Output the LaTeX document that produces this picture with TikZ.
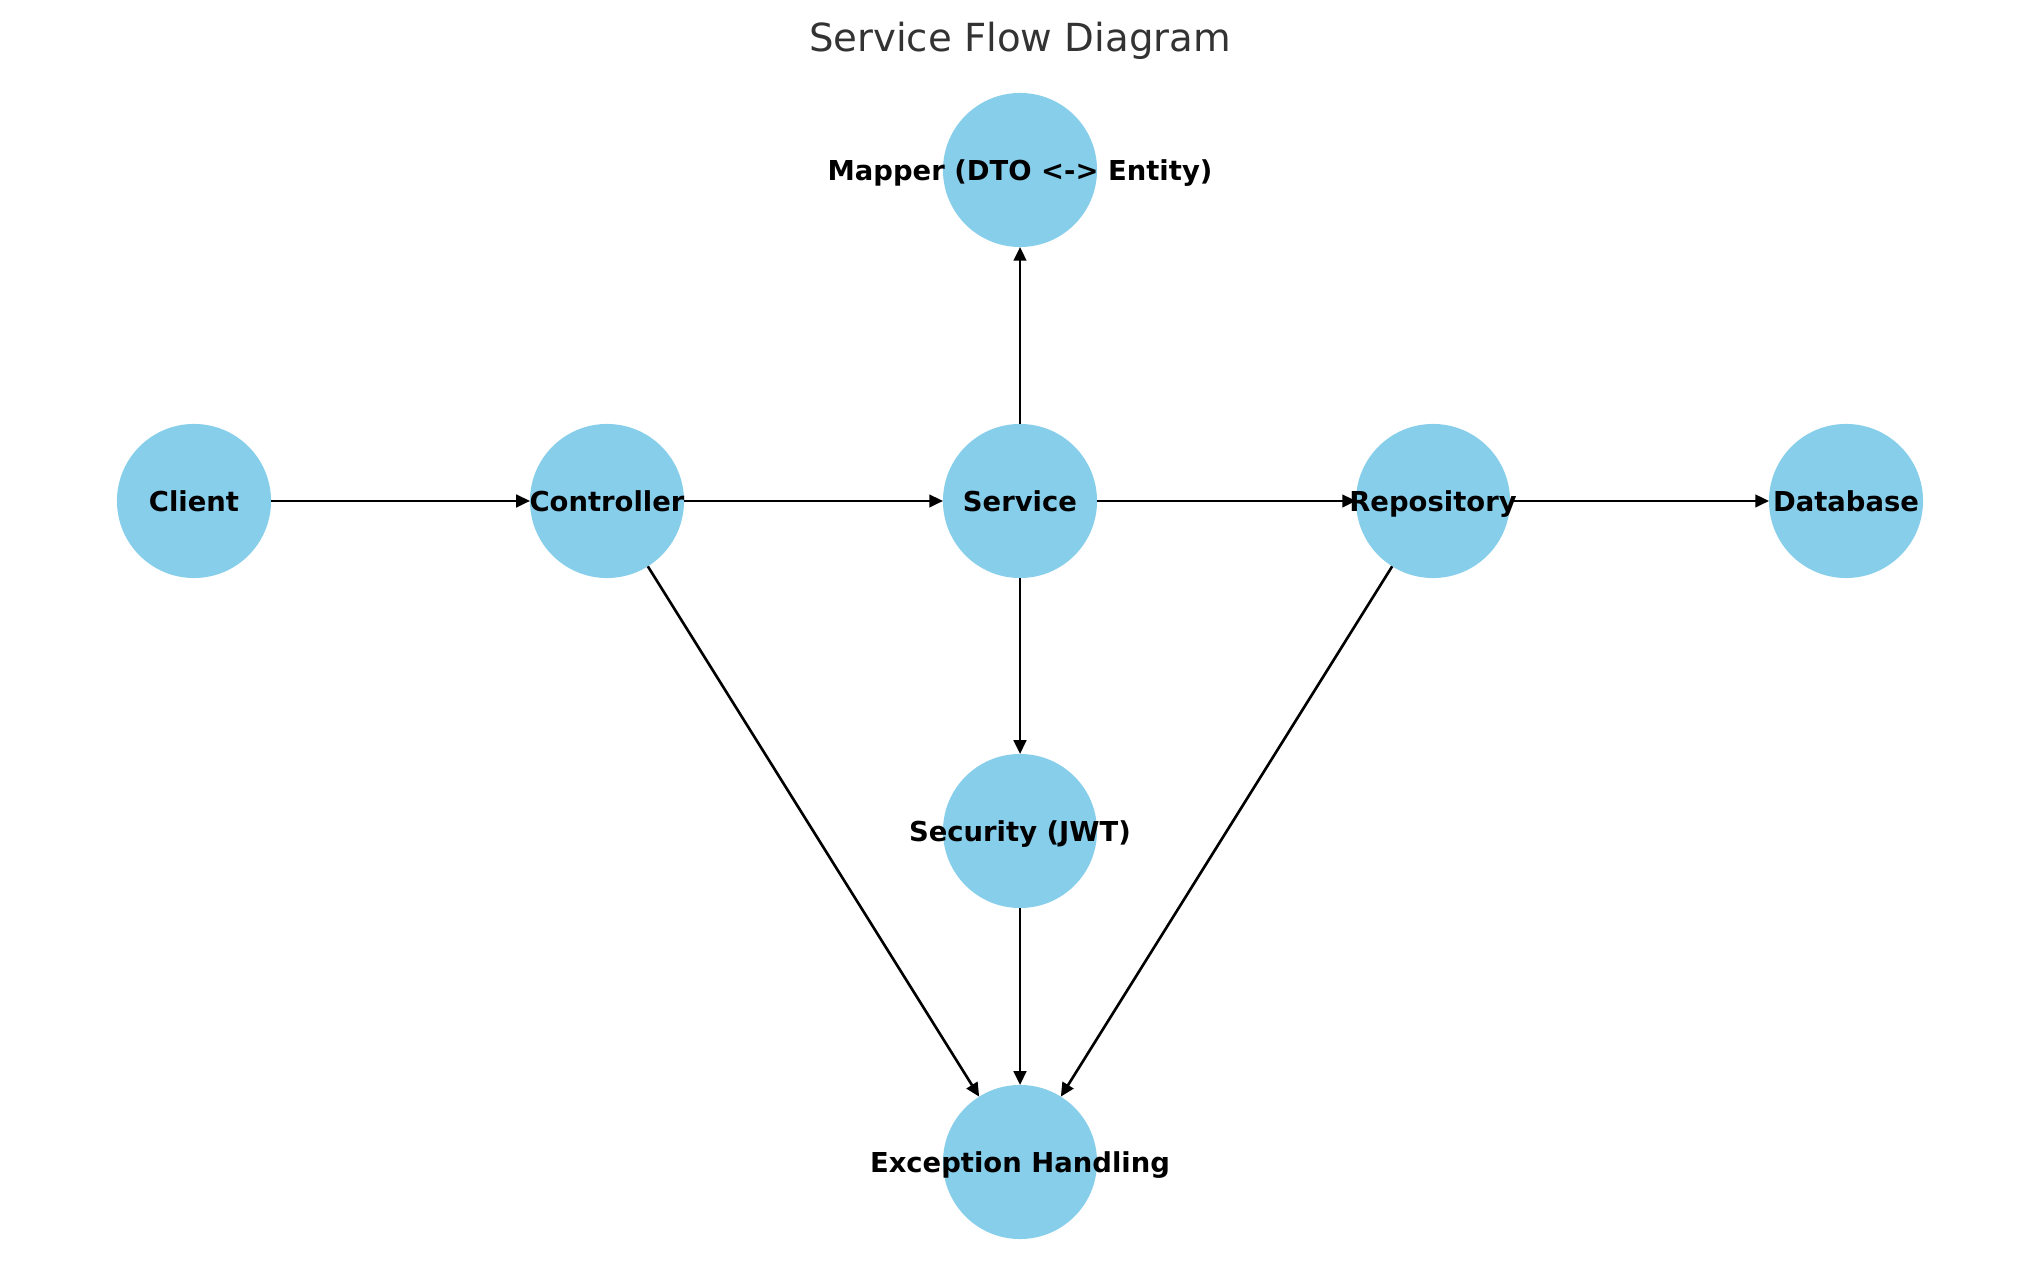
\documentclass[tikz,border=0pt]{standalone}
\usepackage{fontspec}
\setmainfont{DejaVu Sans}
\usetikzlibrary{arrows.meta}
\definecolor{skyblue}{HTML}{87CEEB}
\definecolor{titlegrey}{HTML}{333333}

\begin{document}
\begin{tikzpicture}[x=0.01cm, y=-0.01cm, line width=0.75pt, >={Triangle[length=3.9pt,width=3.6pt]},
    svc/.style={circle, fill=skyblue, minimum size=1.54cm, inner sep=0pt, outer sep=0pt},
    lab/.style={font=\fontsize{7.8}{9}\selectfont\bfseries, inner sep=0pt, text height=5.7pt, text depth=0pt}]
  \useasboundingbox (0,0) rectangle (2039,1286);
  % ---- title
  \node[font=\fontsize{11}{13}\selectfont, text=titlegrey, anchor=base] (title) at (1020,52) {Service Flow Diagram};
  % ---- middle row
  \node[svc, label={[lab]center:Client}] (client) at (194,501) {};
  \node[svc, label={[lab]center:Controller}] (ctrl) at (607,501) {};
  \node[svc, label={[lab]center:Service}] (service) at (1020,501) {};
  \node[svc, label={[lab]center:Repository}] (repo) at (1433,501) {};
  \node[svc, label={[lab]center:Database}] (db) at (1846,501) {};
  % ---- column through the service
  \node[svc, label={[lab]center:Mapper (DTO <-> Entity)}] (mapper) at (1020,170) {};
  \node[svc, label={[lab]center:Security (JWT)}] (security) at (1020,831) {};
  \node[svc, label={[lab]center:Exception Handling}] (exc) at (1020,1162) {};
  % ---- flow
  \draw[->] (client) -- (ctrl);
  \draw[->] (ctrl) -- (service);
  \draw[->] (service) -- (repo);
  \draw[->] (repo) -- (db);
  \draw[->] (service) -- (mapper);
  \draw[->] (service) -- (security);
  \draw[->] (security) -- (exc);
  \draw[->] (ctrl) -- (exc);
  \draw[->] (repo) -- (exc);
\end{tikzpicture}
\end{document}
